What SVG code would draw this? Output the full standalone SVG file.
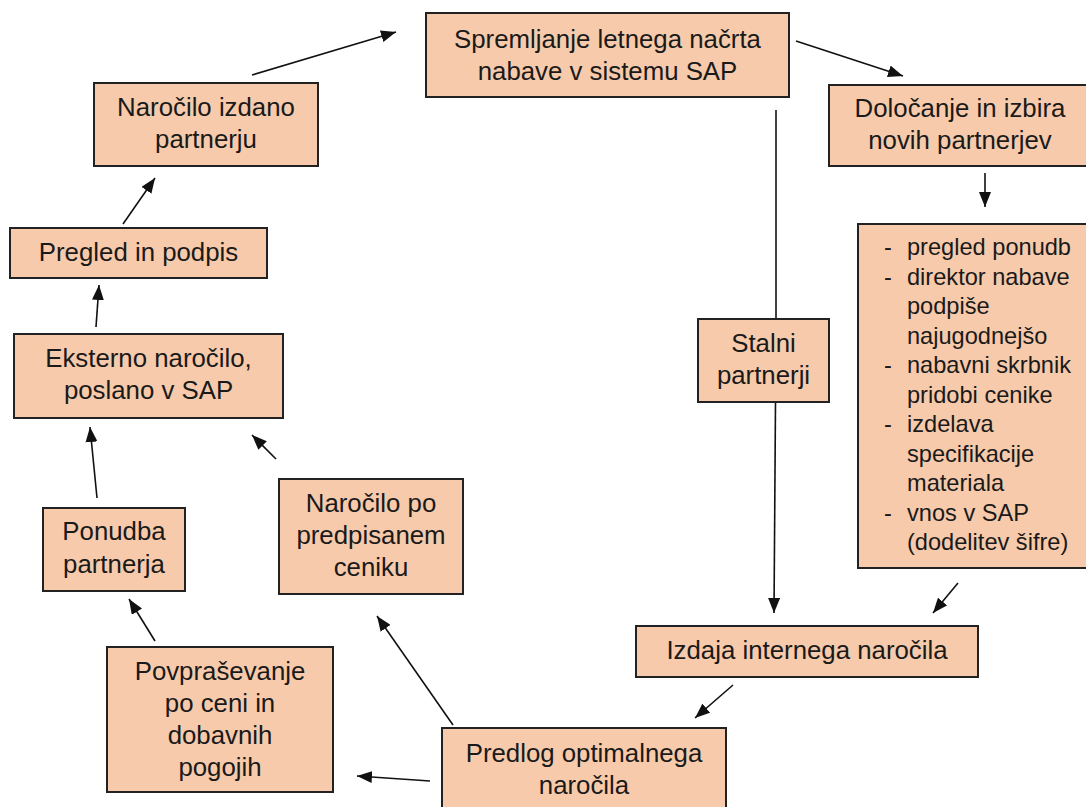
<svg xmlns="http://www.w3.org/2000/svg" width="1086" height="807" viewBox="0 0 1086 807">
<style>
.box{fill:#F7CAAB;stroke:#222;stroke-width:2}
.t{font-family:"Liberation Sans",Arial,sans-serif;font-size:25.8px;fill:#1a1a1a;text-anchor:middle}
.b{font-family:"Liberation Sans",Arial,sans-serif;font-size:23.6px;fill:#1a1a1a}
.c line{stroke:#111;stroke-width:1.6;fill:none}
</style>
<defs>
<marker id="ah" markerWidth="16" markerHeight="12" refX="15" refY="6" orient="auto" markerUnits="userSpaceOnUse">
<path d="M0,0 L15,6 L0,12 z" fill="#111"/>
</marker>
</defs>
<rect width="1086" height="807" fill="#fff"/>
<g id="connectors" class="c">
<line x1="252" y1="75" x2="396" y2="32" marker-end="url(#ah)"/>
<line x1="796" y1="41" x2="903" y2="76" marker-end="url(#ah)"/>
<line x1="985" y1="173" x2="985" y2="207" marker-end="url(#ah)"/>
<line x1="776" y1="110" x2="776" y2="319"/>
<line x1="775.5" y1="402" x2="774" y2="613" marker-end="url(#ah)"/>
<line x1="958" y1="583" x2="933" y2="613" marker-end="url(#ah)"/>
<line x1="733" y1="685" x2="695" y2="718" marker-end="url(#ah)"/>
<line x1="430" y1="781" x2="357" y2="776" marker-end="url(#ah)"/>
<line x1="453" y1="725" x2="377" y2="616" marker-end="url(#ah)"/>
<line x1="155" y1="641" x2="129" y2="599" marker-end="url(#ah)"/>
<line x1="97" y1="498" x2="90" y2="427" marker-end="url(#ah)"/>
<line x1="276" y1="459" x2="252" y2="435" marker-end="url(#ah)"/>
<line x1="96" y1="327" x2="99" y2="285" marker-end="url(#ah)"/>
<line x1="123" y1="224" x2="155" y2="178" marker-end="url(#ah)"/>
</g>
<g id="n-spremljanje">
<rect class="box" x="426" y="13" width="363" height="84"/>
<text class="t" x="607.5" y="48">Spremljanje letnega načrta</text>
<text class="t" x="607.5" y="80">nabave v sistemu SAP</text>
</g>
<g id="n-izdano">
<rect class="box" x="94" y="83" width="224" height="83"/>
<text class="t" x="206" y="116">Naročilo izdano</text>
<text class="t" x="206" y="148">partnerju</text>
</g>
<g id="n-pregled">
<rect class="box" x="10" y="228" width="257" height="50"/>
<text class="t" x="138.5" y="261">Pregled in podpis</text>
</g>
<g id="n-eksterno">
<rect class="box" x="14" y="334" width="269" height="84"/>
<text class="t" x="148.5" y="367">Eksterno naročilo,</text>
<text class="t" x="148.5" y="399">poslano v SAP</text>
</g>
<g id="n-ponudba">
<rect class="box" x="43" y="508" width="142" height="83"/>
<text class="t" x="114" y="540">Ponudba</text>
<text class="t" x="114" y="573">partnerja</text>
</g>
<g id="n-cenik">
<rect class="box" x="279" y="479" width="184" height="115"/>
<text class="t" x="371" y="512">Naročilo po</text>
<text class="t" x="371" y="544">predpisanem</text>
<text class="t" x="371" y="576">ceniku</text>
</g>
<g id="n-povprasevanje">
<rect class="box" x="107" y="647" width="226" height="145"/>
<text class="t" x="220" y="680">Povpraševanje</text>
<text class="t" x="220" y="712">po ceni in</text>
<text class="t" x="220" y="744">dobavnih</text>
<text class="t" x="220" y="776">pogojih</text>
</g>
<g id="n-predlog">
<rect class="box" x="442" y="728" width="284" height="90"/>
<text class="t" x="584" y="762">Predlog optimalnega</text>
<text class="t" x="584" y="794">naročila</text>
</g>
<g id="n-izdaja">
<rect class="box" x="636" y="626" width="342" height="51"/>
<text class="t" x="807" y="659">Izdaja internega naročila</text>
</g>
<g id="n-stalni">
<rect class="box" x="698" y="319" width="131" height="83"/>
<text class="t" x="763.5" y="352">Stalni</text>
<text class="t" x="763.5" y="384">partnerji</text>
</g>
<g id="n-dolocanje">
<rect class="box" x="829" y="85" width="265" height="81"/>
<text class="t" x="960" y="117">Določanje in izbira</text>
<text class="t" x="960" y="149">novih partnerjev</text>
</g>
<g id="n-postopek">
<rect class="box" x="858" y="224" width="236" height="344"/>
<text class="b" x="884" y="255">-</text>
<text class="b" x="907" y="255">pregled ponudb</text>
<text class="b" x="884" y="284.5">-</text>
<text class="b" x="907" y="284.5">direktor nabave</text>
<text class="b" x="907" y="314">podpiše</text>
<text class="b" x="907" y="343.5">najugodnejšo</text>
<text class="b" x="884" y="373">-</text>
<text class="b" x="907" y="373">nabavni skrbnik</text>
<text class="b" x="907" y="402.5">pridobi cenike</text>
<text class="b" x="884" y="432">-</text>
<text class="b" x="907" y="432">izdelava</text>
<text class="b" x="907" y="461.5">specifikacije</text>
<text class="b" x="907" y="491">materiala</text>
<text class="b" x="884" y="520.5">-</text>
<text class="b" x="907" y="520.5">vnos v SAP</text>
<text class="b" x="907" y="550">(dodelitev šifre)</text>
</g>
</svg>
